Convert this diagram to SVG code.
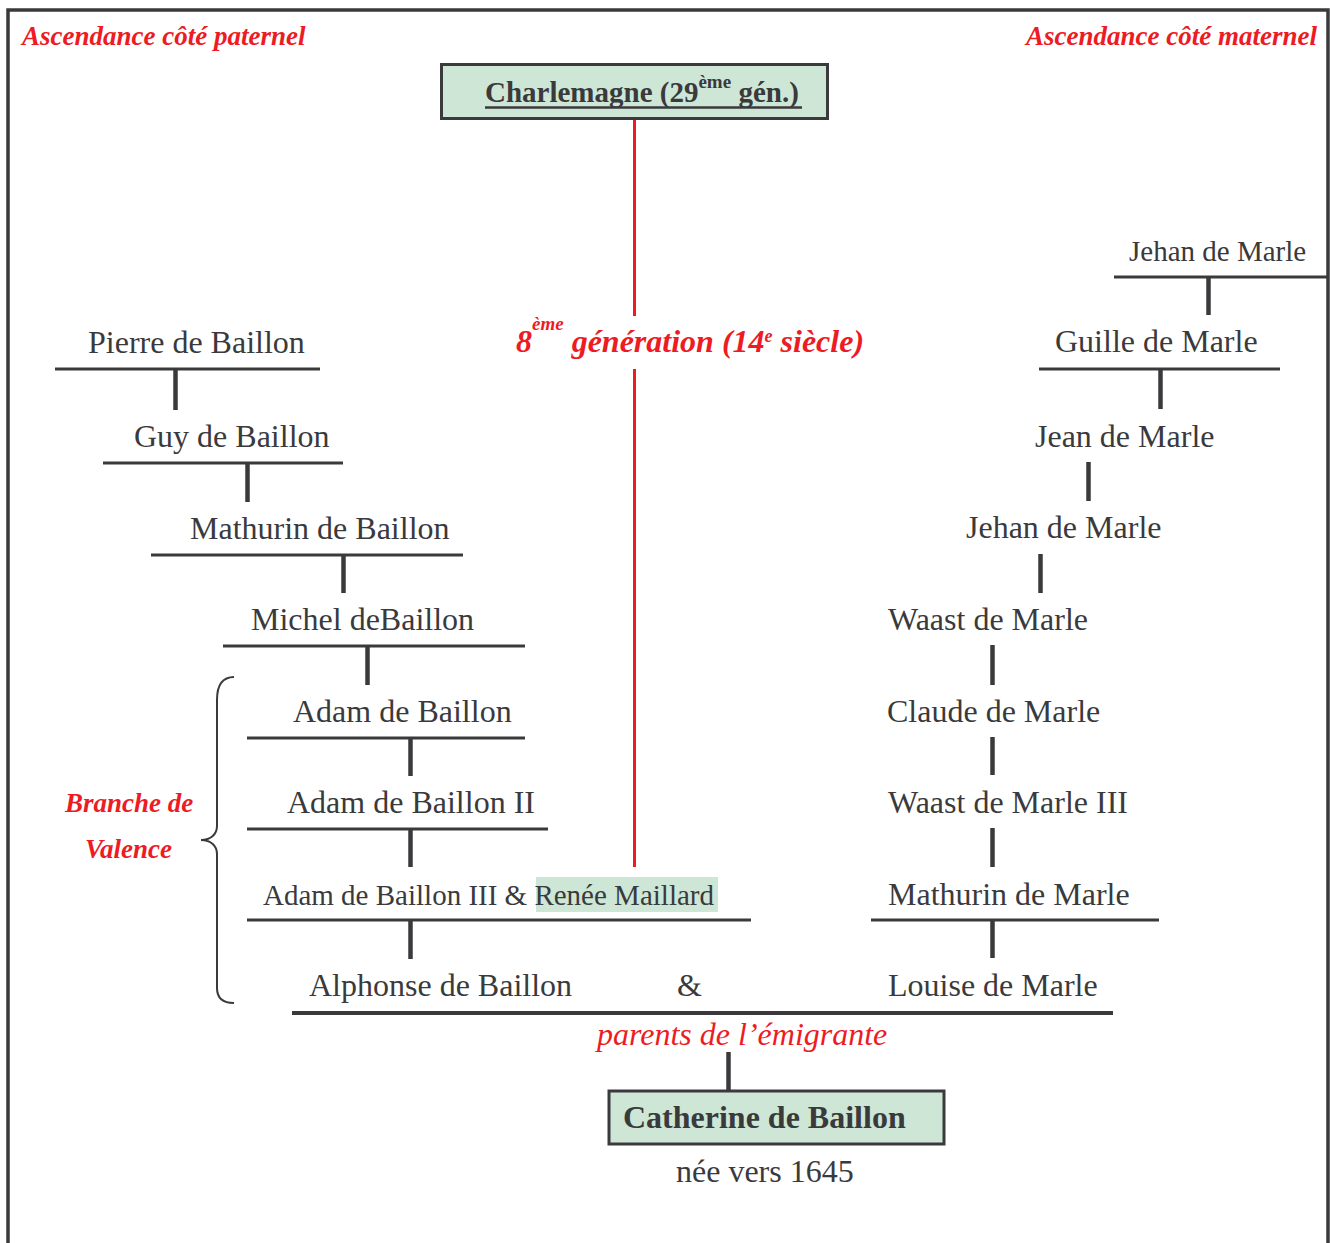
<svg xmlns="http://www.w3.org/2000/svg" width="1330" height="1243" viewBox="0 0 1330 1243">
<style>
.n{font-family:"Liberation Serif","Times New Roman",serif;font-size:32px;fill:#3a3a3c}
.s{font-size:29px}
.bd{font-weight:bold}
.r{font-family:"Liberation Serif","Times New Roman",serif;fill:#ed1c24;font-style:italic}
.h{stroke:#3a3a3c;stroke-width:3;fill:none}
.v{stroke:#3a3a3c;stroke-width:4.5;fill:none}
.box{fill:#cde6d6;stroke:#3a3a3c;stroke-width:3}
</style>
<rect width="1330" height="1243" fill="#ffffff"/>
<path d="M8,1243 V10 H1328 V1243" fill="none" stroke="#3a3a3c" stroke-width="3.5"/>

<g id="labels">
<text class="r bd" x="22" y="45" font-size="27">Ascendance côté paternel</text>
<text class="r bd" x="1026" y="45" font-size="27">Ascendance côté maternel</text>
<text class="r bd" x="65" y="812" font-size="27">Branche de</text>
<text class="r bd" x="85" y="858" font-size="27">Valence</text>
<text class="r" x="597" y="1045" font-size="32">parents de l’émigrante</text>
<text class="r bd" x="516" y="352" font-size="32">8<tspan font-size="19" dy="-22">ème</tspan><tspan dy="22"> génération (14</tspan><tspan font-size="18" dy="-10">e</tspan><tspan dy="10"> siècle)</tspan></text>
</g>

<g id="connectors">
<line x1="634.5" y1="119" x2="634.5" y2="316" stroke="#ed1c24" stroke-width="3"/>
<line x1="634.5" y1="369" x2="634.5" y2="867" stroke="#ed1c24" stroke-width="3"/>
<line class="h" x1="55" y1="369" x2="320" y2="369"/>
<line class="v" x1="175.5" y1="369" x2="175.5" y2="410"/>
<line class="h" x1="103" y1="463" x2="343" y2="463"/>
<line class="v" x1="247.5" y1="463" x2="247.5" y2="502"/>
<line class="h" x1="151" y1="555" x2="463" y2="555"/>
<line class="v" x1="343.5" y1="555" x2="343.5" y2="593"/>
<line class="h" x1="223" y1="646" x2="525" y2="646"/>
<line class="v" x1="367.5" y1="646" x2="367.5" y2="685"/>
<line class="h" x1="247" y1="738" x2="525" y2="738"/>
<line class="v" x1="410.5" y1="738" x2="410.5" y2="776"/>
<line class="h" x1="247" y1="829" x2="548" y2="829"/>
<line class="v" x1="410.5" y1="829" x2="410.5" y2="867"/>
<line class="h" x1="247" y1="920" x2="751" y2="920"/>
<line class="v" x1="410.5" y1="920" x2="410.5" y2="959"/>
<line class="h" x1="1114" y1="277" x2="1328" y2="277"/>
<line class="v" x1="1208.5" y1="277" x2="1208.5" y2="315"/>
<line class="h" x1="1039" y1="369" x2="1280" y2="369"/>
<line class="v" x1="1160.5" y1="369" x2="1160.5" y2="409"/>
<line class="v" x1="1088.5" y1="462" x2="1088.5" y2="501"/>
<line class="v" x1="1040.5" y1="554" x2="1040.5" y2="593"/>
<line class="v" x1="992.5" y1="645" x2="992.5" y2="685"/>
<line class="v" x1="992.5" y1="737" x2="992.5" y2="775"/>
<line class="v" x1="992.5" y1="828" x2="992.5" y2="867"/>
<line class="h" x1="871" y1="920" x2="1159" y2="920"/>
<line class="v" x1="992.5" y1="920" x2="992.5" y2="958"/>
<line x1="292" y1="1013" x2="1113" y2="1013" stroke="#3a3a3c" stroke-width="4"/>
<line class="v" x1="728.5" y1="1052" x2="728.5" y2="1090"/>
<path d="M234,677 C222,677 217,686 217,700 L217,826 C217,834 211,840 201,840 C211,840 217,846 217,854 L217,988 C217,998 222,1003 234,1003" fill="none" stroke="#3a3a3c" stroke-width="2"/>
</g>

<g id="charlemagne">
<rect class="box" x="441.5" y="64.5" width="386" height="54"/>
<text class="n bd" x="485" y="102" style="font-size:29px">Charlemagne (29<tspan style="font-size:19px" dy="-14">ème</tspan><tspan dy="14"> gén.)</tspan></text>
<line x1="485" y1="107.5" x2="802" y2="107.5" stroke="#3a3a3c" stroke-width="2.5"/>
</g>

<g id="pierre"><text class="n" x="88" y="353">Pierre de Baillon</text></g>
<g id="guy"><text class="n" x="134" y="447">Guy de Baillon</text></g>
<g id="mathurin-b"><text class="n" x="190" y="539">Mathurin de Baillon</text></g>
<g id="michel"><text class="n" x="251" y="630">Michel deBaillon</text></g>
<g id="adam1"><text class="n" x="293" y="722">Adam de Baillon</text></g>
<g id="adam2"><text class="n" x="287" y="813">Adam de Baillon II</text></g>
<g id="adam3">
<rect x="536" y="877" width="182" height="35" fill="#cde6d6"/>
<text class="n s" x="263" y="905">Adam de Baillon III &amp; Renée Maillard</text>
</g>
<g id="alphonse"><text class="n" x="309" y="996">Alphonse de Baillon</text></g>
<g id="amp"><text class="n" x="677" y="996">&amp;</text></g>

<g id="jehan1"><text class="n s" x="1129" y="261">Jehan de Marle</text></g>
<g id="guille"><text class="n" x="1055" y="352">Guille de Marle</text></g>
<g id="jean"><text class="n" x="1035" y="447">Jean de Marle</text></g>
<g id="jehan2"><text class="n" x="966" y="538">Jehan de Marle</text></g>
<g id="waast"><text class="n" x="888" y="630">Waast de Marle</text></g>
<g id="claude"><text class="n" x="887" y="722">Claude de Marle</text></g>
<g id="waast3"><text class="n" x="888" y="813">Waast de Marle III</text></g>
<g id="mathurin-m"><text class="n" x="888" y="905">Mathurin de Marle</text></g>
<g id="louise"><text class="n" x="888" y="996">Louise de Marle</text></g>

<g id="catherine">
<rect class="box" x="609" y="1091" width="335" height="53"/>
<text class="n bd" x="623" y="1128">Catherine de Baillon</text>
<text class="n" x="676" y="1182">née vers 1645</text>
</g>
</svg>
